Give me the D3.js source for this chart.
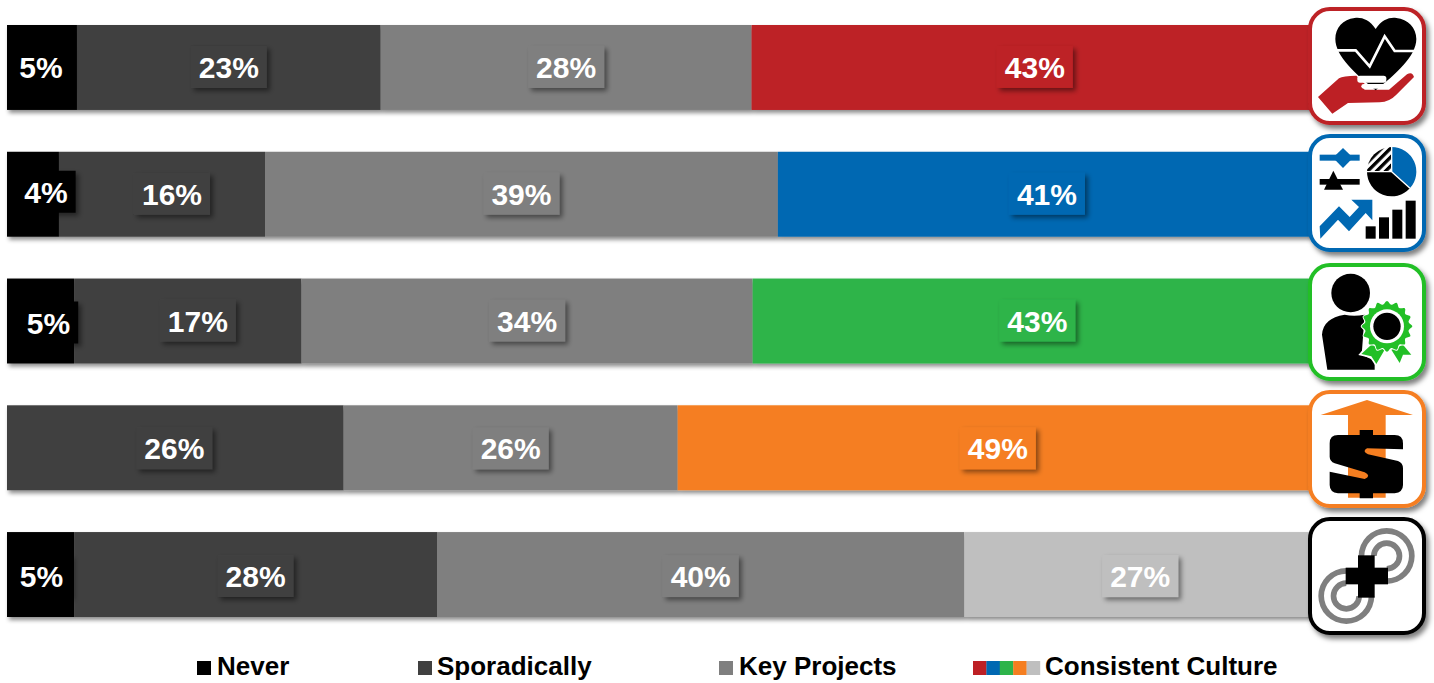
<!DOCTYPE html>
<html>
<head>
<meta charset="utf-8">
<script src="https://cdn.jsdelivr.net/npm/d3@7"></script>
<style>
    html, body { margin: 0; padding: 0; background: #fff; overflow: hidden; }
    svg { display: block; }
    text { font-family: "Liberation Sans", Arial, sans-serif; font-weight: bold; }
</style>
</head>
<body>
<div id="my_dataviz"></div>
<script>
// chart data
var rows = ["Health", "Analytics", "Talent", "Revenue", "Integration"];
var keys = ["Never", "Sporadically", "Key Projects", "Consistent Culture"];

var never = [5.32, 3.95, 5.1, 0, 5.1];
var sporadically = [23.1, 15.67, 17.3, 25.6, 27.6];
var keyProjects = [28.2, 39.0, 34.3, 25.4, 40.1];
var consistent = [43.38, 41.38, 43.3, 49.0, 27.2];

var neverLabels = ["5%", "4%", "5%", "", "5%"];
var sporadicallyLabels = ["23%", "16%", "17%", "26%", "28%"];
var keyProjectsLabels = ["28%", "39%", "34%", "26%", "40%"];
var consistentLabels = ["43%", "41%", "43%", "49%", "27%"];

var rowColors = ["#bd2025", "#0068b2", "#2eb44a", "#f57e20", "#bfbfbf"];
var borderColors = ["#bd2025", "#0068b2", "#22bf26", "#f57e20", "#000000"];
var fixedColors = ["#000000", "#404040", "#7f7f7f"];

var table = rows.map(function(r, i) {
    return {
        row: r,
        "Never": never[i],
        "Sporadically": sporadically[i],
        "Key Projects": keyProjects[i],
        "Consistent Culture": consistent[i]
    };
});
var labels = [neverLabels, sporadicallyLabels, keyProjectsLabels, consistentLabels];

var width = 1434, height = 683;

var svg = d3.select("#my_dataviz")
    .append("svg")
    .attr("width", width)
    .attr("height", height);

// drop shadows
var defs = svg.append("defs");
var makeShadow = function(id, dx, dy, blur, op) {
    defs.append("filter")
        .attr("id", id)
        .attr("x", "-20%").attr("y", "-30%")
        .attr("width", "140%").attr("height", "170%")
        .append("feDropShadow")
        .attr("dx", dx).attr("dy", dy)
        .attr("stdDeviation", blur)
        .attr("flood-color", "#000")
        .attr("flood-opacity", op);
};
makeShadow("barShadow", 2, 3, 2, 0.45);
makeShadow("boxShadow", 3, 3, 2.5, 0.45);
makeShadow("iconShadow", 3, 4, 2.5, 0.5);

var x = d3.scaleLinear().domain([0, 100]).range([7, 1322]);
var y = d3.scaleBand().domain(rows).range([25, 617]).paddingInner(0.33).paddingOuter(0);

var stacked = d3.stack().keys(keys)(table);

function segColor(k, i) {
    return k < 3 ? fixedColors[k] : rowColors[i];
}

// bars, one shadow per row
var bars = svg.selectAll(".bar")
    .data(rows)
    .enter()
    .append("g")
    .attr("class", "bar")
    .attr("filter", "url(#barShadow)");

bars.each(function(row, i) {
    var g = d3.select(this);
    stacked.forEach(function(layer) {
        var d = layer[i];
        if (d[1] <= d[0]) return;
        g.append("rect")
            .attr("x", x(d[0]))
            .attr("y", y(row))
            .attr("width", x(d[1]) - x(d[0]))
            .attr("height", y.bandwidth())
            .attr("fill", segColor(layer.index, i));
    });
});

// small hand shifts of labels that don't sit on their segment centre: "layer,row": [dx, dy]
var labelShift = {
    "0,1": [13, -2], "0,2": [8, 2], "1,1": [10, 0], "1,2": [10, 0],
    "0,0": [-1, 0], "0,4": [1, 0], "3,0": [-2, 0], "3,1": [-3, 0],
    "3,3": [-2, 0], "3,4": [-3, 0], "1,3": [-1, 0]
};
var rowLabelDy = [0, 0, 0, 1, 2];

var labelLayer = svg.append("g");
stacked.forEach(function(layer) {
    layer.forEach(function(d, i) {
        var txt = labels[layer.index][i];
        if (txt === "") return;
        var shift = labelShift[layer.index + "," + i] || [0, 0];
        var cx = (x(d[0]) + x(d[1])) / 2 + shift[0];
        var cy = y(d.data.row) + y.bandwidth() / 2 + shift[1] + rowLabelDy[i] - 0.5;
        var g = labelLayer.append("g").attr("transform", "translate(" + cx + "," + cy + ")");
        var box = g.append("rect")
            .attr("fill", segColor(layer.index, i))
            .attr("filter", "url(#boxShadow)");
        var t = g.append("text")
            .attr("text-anchor", "middle")
            .attr("y", 11)
            .attr("fill", "#fff")
            .style("font-size", "30px")
            .text(txt);
        var w = t.node().getComputedTextLength() + 16;
        box.attr("x", -w / 2).attr("y", -21).attr("width", w).attr("height", 42);
    });
});

// icons are drawn in a 3x grid (the frame's top left corner is at 55, top)
var iconTops = [7, 134, 263, 390, 517];
var iconGridTop = [22, 403, 25, 405, 20];

var iconDrawers = [drawHeart, drawAnalytics, drawPerson, drawDollar, drawLinks];

rows.forEach(function(r, i) {
    var g = svg.append("g")
        .attr("transform", "translate(1308," + iconTops[i] + ")");
    g.append("rect")
        .attr("x", 2).attr("y", 2)
        .attr("width", 114).attr("height", 114)
        .attr("rx", 20)
        .attr("fill", "#fff")
        .attr("stroke", borderColors[i])
        .attr("stroke-width", 4)
        .attr("filter", "url(#iconShadow)");
    var inner = g.append("g")
        .attr("transform", "scale(" + (1 / 3) + ") translate(-55," + (-iconGridTop[i]) + ")");
    iconDrawers[i](inner, borderColors[i]);
});

function drawHeart(g, color) {
    g.append("path")
        .attr("fill", color)
        .attr("d", "M85,292 L148,236 Q160,228 200,228 L225,252 Q215,261 225,270 L298,270 L352,224 Q368,214 373,232 L320,285 Q300,306 270,308 L175,310 L128,342 Z");
    g.append("path")
        .attr("fill", "#000")
        .attr("d", "M258,88 C240,60 215,52 195,55 C160,58 137,85 137,118 C137,170 200,225 258,272 C316,225 380,170 380,118 C380,85 355,58 320,55 C300,52 276,60 258,88 Z");
    g.append("path")
        .attr("fill", "none")
        .attr("stroke", "#fff")
        .attr("stroke-width", 8)
        .attr("d", "M137,152 H198 L240,200 L285,110 L315,154 H380");
    g.append("rect").attr("x", 203).attr("y", 228).attr("width", 87).attr("height", 21).attr("rx", 8).attr("fill", "#fff");
    g.append("rect").attr("x", 215).attr("y", 253).attr("width", 75).attr("height", 14).attr("rx", 7).attr("fill", "#fff");
}

function drawAnalytics(g, color) {
    // sliders
    g.append("rect").attr("x", 90).attr("y", 465).attr("width", 120).attr("height", 18).attr("fill", color);
    g.append("path").attr("fill", color).attr("d", "M160,445 L190,474 L160,505 L130,474 Z");
    g.append("rect").attr("x", 90).attr("y", 538).attr("width", 120).attr("height", 17).attr("fill", "#000");
    g.append("path").attr("fill", "#000").attr("d", "M131,513 L160,570 H103 Z");

    // pie
    var pie = g.append("g").attr("transform", "translate(306,516)");
    var arc = d3.arc().innerRadius(0).outerRadius(74);
    var hatch = defs.append("pattern")
        .attr("id", "hatch")
        .attr("patternUnits", "userSpaceOnUse")
        .attr("width", 19).attr("height", 19)
        .attr("patternTransform", "rotate(-45)");
    hatch.append("rect").attr("width", 19).attr("height", 10).attr("fill", "#000");
    pie.append("path").attr("fill", color)
        .attr("d", arc({startAngle: 0, endAngle: 2.3}));
    pie.append("path").attr("fill", "#000")
        .attr("d", arc({startAngle: 2.3, endAngle: 4.71}));
    pie.append("path").attr("fill", "url(#hatch)")
        .attr("d", arc({startAngle: 4.71, endAngle: 6.283}));
    pie.append("path").attr("fill", "none").attr("stroke", "#fff").attr("stroke-width", 4)
        .attr("d", "M-74,0 H0 V-74 M0,0 L55,50");

    // growth arrow and bars
    g.append("path").attr("fill", color)
        .attr("d", "M90,680 L148,620 L180,652 L208,622 L185,600 H248 V662 L228,640 L178,695 L145,660 L92,717 Z");
    g.selectAll(null)
        .data([[228, 680], [268, 653], [308, 630], [348, 603]])
        .enter()
        .append("rect")
        .attr("x", function(d) { return d[0]; })
        .attr("y", function(d) { return d[1]; })
        .attr("width", 30)
        .attr("height", function(d) { return 717 - d[1]; })
        .attr("fill", "#000");
}

function drawPerson(g, color) {
    g.append("circle").attr("cx", 183).attr("cy", 115).attr("r", 58).attr("fill", "#000");
    g.append("path").attr("fill", "#000")
        .attr("d", "M113,345 L97,240 Q100,190 165,180 Q192,186 225,180 L216,300 L255,318 V345 Z");

    // ribbons
    g.append("path").attr("fill", "#fff").attr("stroke", "#fff").attr("stroke-width", 10)
        .attr("d", "M215,298 L245,262 L340,262 L365,300 L340,300 L330,325 L305,285 L285,285 L260,328 L245,305 Z");
    g.append("path").attr("fill", color)
        .attr("d", "M215,298 L245,270 L285,285 L260,328 L245,305 Z");
    g.append("path").attr("fill", color)
        .attr("d", "M305,285 L340,270 L365,300 L340,300 L330,325 Z");

    // rosette
    var points = d3.range(32).map(function(k) {
        var a = k / 32 * 2 * Math.PI;
        return [a, k % 2 === 0 ? 76 : 66];
    });
    var seal = g.append("g").attr("transform", "translate(292,215)");
    seal.append("path")
        .attr("fill", color)
        .attr("stroke", "#fff")
        .attr("stroke-width", 6)
        .attr("paint-order", "stroke")
        .attr("d", d3.lineRadial().curve(d3.curveCardinalClosed)(points));
    seal.append("circle").attr("r", 51).attr("fill", "#fff");
    seal.append("circle").attr("r", 41).attr("fill", "#000");
}

function drawDollar(g, color) {
    g.append("path").attr("fill", color)
        .attr("d", "M93,480 L232,435 L370,480 H288 V728 H175 V480 Z");
    g.append("path").attr("fill", "#000")
        .attr("d", "M210,525 H250 V540 H315 Q340,540 340,565 V583 L232,580 Q216,589 235,598 L325,618 Q340,624 340,640 V690 Q340,712 315,715 H250 V730 H210 V715 H145 Q120,712 120,690 V650 L225,672 Q246,663 225,652 L135,625 Q120,618 120,605 V565 Q120,540 145,540 H210 Z");
}

function drawLinks(g) {
    var ring = d3.arc();
    var grey = "#7f7f7f";
    var spots = [
        {cx: 291, cy: 137, start: -Math.PI / 2, end: Math.PI},
        {cx: 170, cy: 257, start: Math.PI / 2, end: 2 * Math.PI}
    ];
    spots.forEach(function(s) {
        [[67, 84], [30, 47]].forEach(function(r) {
            g.append("path")
                .attr("transform", "translate(" + s.cx + "," + s.cy + ")")
                .attr("fill", grey)
                .attr("d", ring({innerRadius: r[0], outerRadius: r[1], startAngle: s.start, endAngle: s.end}));
        });
    });
    g.append("rect").attr("x", 205).attr("y", 135).attr("width", 50).attr("height", 127).attr("fill", "#000");
    g.append("rect").attr("x", 168).attr("y", 172).attr("width", 127).attr("height", 50).attr("fill", "#000");
}

// legend
var legendX = d3.scaleOrdinal().domain(keys).range([197, 418, 719, 973]);
var legendPad = [20, 19, 20, 72];
var legend = svg.append("g");
var swatch = 14;

keys.forEach(function(k, i) {
    var colors = i < 3 ? [fixedColors[i]] : rowColors;
    legend.selectAll(null)
        .data(colors)
        .enter()
        .append("rect")
        .attr("x", function(c, j) { return legendX(k) + j * 13.4; })
        .attr("y", 661)
        .attr("width", i < 3 ? swatch : 13.6)
        .attr("height", swatch)
        .attr("fill", function(c) { return c; });
    legend.append("text")
        .attr("x", legendX(k) + legendPad[i])
        .attr("y", 675)
        .attr("fill", "#000")
        .style("font-size", "26px")
        .text(k);
});
</script>
</body>
</html>
